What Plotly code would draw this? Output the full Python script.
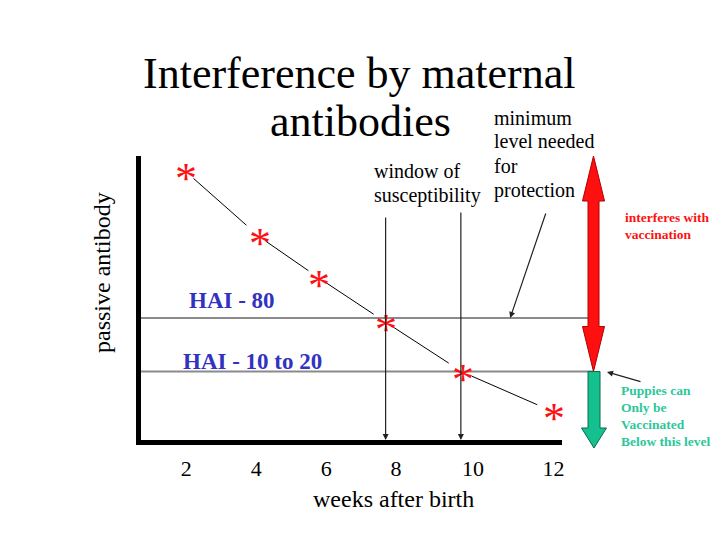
import plotly.graph_objects as go

# data (passive antibody in arbitrary units, 0-100)
weeks = [2.0, 4.1, 5.8, 7.7, 9.9, 12.5]
antibody = [94.4, 71.5, 57.0, 41.5, 23.9, 9.9]

hai_levels = [43.0, 24.1]
hai_labels = ["HAI - 80", "HAI - 10 to 20"]

window_weeks = [7.7, 9.85]
window_tops = [78.9, 80.6]

tick_pos = [2, 4, 6, 8, 10.2, 12.5]
tick_text = ["2", "4", "6", "8", "10", "12"]

x_range = [0.71, 12.74]
y_range = [0, 100]

# plot area in screen pixels; the page body adds an 8px margin on each side
PAGE_W, PAGE_H, OFF = 720, 540, 8
L, R, T, B = 141, 562, 156, 440
SERIF = "Liberation Serif"
RED = "#ff1010"
GREEN_FILL = "#14c08e"
GREEN_TEXT = "#2cc79a"
BLUE = "#3232c0"


def xp(px):
    return (px - L) / (R - L)


def yp(py):
    return (B - py) / (B - T)


def y2p(v):
    return (v - y_range[0]) / (y_range[1] - y_range[0])


fig = go.Figure()

# connecting line, broken near each star like on the slide
seg_x, seg_y = [], []
for i in range(len(weeks) - 1):
    x0, x1 = weeks[i], weeks[i + 1]
    y0, y1 = antibody[i], antibody[i + 1]
    for t in (0.1, 0.82):
        seg_x.append(x0 + t * (x1 - x0))
        seg_y.append(y0 + t * (y1 - y0))
    seg_x.append(None)
    seg_y.append(None)

fig.add_trace(go.Scatter(x=seg_x, y=seg_y, mode="lines",
                         line=dict(color="black", width=1), hoverinfo="skip",
                         showlegend=False))
fig.add_trace(go.Scatter(x=weeks, y=antibody, mode="markers",
                         marker=dict(size=1, color="rgba(0,0,0,0)"),
                         showlegend=False))

shapes = []
annotations = []

# HAI levels
red_cx = xp(593.5)
red_sw, red_hw, red_hl = 5.5 / (R - L), 11 / (R - L), 45 / (B - T)
grn_cx = xp(594)
grn_sw, grn_hw, grn_hl = 6 / (R - L), 12.5 / (R - L), 20 / (B - T)

line_ends = [red_cx - red_sw, red_cx]
for lvl, end in zip(hai_levels, line_ends):
    shapes.append(dict(type="line", xref="paper", yref="y", x0=0, x1=end,
                       y0=lvl, y1=lvl, line=dict(color="#8a8a8a", width=2)))

# red double arrow: top of axis down to the lower HAI level
ytop = y2p(y_range[1])
ybot = y2p(hai_levels[1])
c, sw, hw, hl = red_cx, red_sw, red_hw, red_hl
pts = [(c, ytop), (c + hw, ytop - hl), (c + sw, ytop - hl), (c + sw, ybot + hl),
       (c + hw, ybot + hl), (c, ybot), (c - hw, ybot + hl), (c - sw, ybot + hl),
       (c - sw, ytop - hl), (c - hw, ytop - hl)]
shapes.append(dict(type="path", xref="paper", yref="paper",
                   path="M " + " L ".join(f"{a:.4f},{b:.4f}" for a, b in pts) + " Z",
                   fillcolor=RED, line=dict(color="#b00000", width=1)))

# green arrow: lower HAI level down past the axis
gtop = y2p(hai_levels[1])
gtip = yp(448)
c, sw, hw, hl = grn_cx, grn_sw, grn_hw, grn_hl
pts = [(c - sw, gtop), (c + sw, gtop), (c + sw, gtip + hl), (c + hw, gtip + hl),
       (c, gtip), (c - hw, gtip + hl), (c - sw, gtip + hl)]
shapes.append(dict(type="path", xref="paper", yref="paper",
                   path="M " + " L ".join(f"{a:.4f},{b:.4f}" for a, b in pts) + " Z",
                   fillcolor=GREEN_FILL, line=dict(color="#0a6a50", width=1)))

# stars
for wk, v in zip(weeks, antibody):
    annotations.append(dict(x=wk, y=v, xref="x", yref="y", text="*", showarrow=False,
                            yshift=-7, font=dict(family=SERIF, size=44, color=RED)))

# window of susceptibility arrows
for wk, top in zip(window_weeks, window_tops):
    annotations.append(dict(x=wk, y=0, ax=wk, ay=top, xref="x", yref="y",
                            axref="x", ayref="y", text="", showarrow=True,
                            arrowhead=2, arrowsize=1, arrowwidth=1.2,
                            arrowcolor="#222222", standoff=0))

# minimum level arrow
annotations.append(dict(x=11.26, y=hai_levels[0], ax=12.29, ay=80.3, xref="x", yref="y",
                        axref="x", ayref="y", text="", showarrow=True, arrowhead=2,
                        arrowsize=1, arrowwidth=1.2, arrowcolor="#222222", standoff=0))

# puppies arrow
annotations.append(dict(x=xp(607), y=yp(372), xref="paper", yref="paper", ax=35, ay=10,
                        text="", showarrow=True, arrowhead=2, arrowsize=1,
                        arrowwidth=1.2, arrowcolor="#222222", standoff=0))


def label(text, px, py, size, color="black", bold=False, anchor="left", angle=0):
    if bold:
        text = f"<b>{text}</b>"
    annotations.append(dict(x=xp(px), y=yp(py), xref="paper", yref="paper", text=text,
                            showarrow=False, xanchor=anchor, yanchor="middle",
                            textangle=angle, borderpad=0,
                            font=dict(family=SERIF, size=size, color=color)))


# title
label("Interference by maternal", 359, 73, 44, anchor="center")
label("antibodies", 360, 121, 44, anchor="center")

for txt, py in zip(["minimum", "level needed", "for", "protection"], [118, 141, 166, 190]):
    label(txt, 493, py, 20)
for txt, py in zip(["window of", "susceptibility"], [171, 195]):
    label(txt, 373, py, 20)

for txt, px, py in zip(hai_labels, [188, 182], [300, 361]):
    label(txt, px, py, 23, color=BLUE, bold=True)

for txt, py in zip(["interferes with", "vaccination"], [217, 234]):
    label(txt, 624, py, 13.5, color=RED, bold=True)
for txt, py in zip(["Puppies can", "Only be", "Vaccinated", "Below this level"],
                   [390, 407, 424, 441]):
    label(txt, 620, py, 13.5, color=GREEN_TEXT, bold=True)

label("weeks after birth", 393, 499, 24, anchor="center")
label("passive antibody", 102, 273, 24, anchor="center", angle=-90)

fig.update_layout(
    width=PAGE_W - 2 * OFF, height=PAGE_H - 2 * OFF,
    margin=dict(l=L - OFF, r=PAGE_W - OFF - R, t=T - OFF, b=PAGE_H - OFF - B),
    paper_bgcolor="white", plot_bgcolor="white",
    showlegend=False,
    shapes=shapes,
    annotations=annotations,
    xaxis=dict(range=x_range, showline=True, linewidth=5, linecolor="black",
               showgrid=False, zeroline=False, ticks="", tickvals=tick_pos,
               ticktext=tick_text, ticklabelstandoff=5,
               tickfont=dict(family=SERIF, size=22, color="black")),
    yaxis=dict(range=y_range, showline=True, linewidth=5, linecolor="black",
               showgrid=False, zeroline=False, showticklabels=False, ticks=""),
)

fig.write_html("out.html")
